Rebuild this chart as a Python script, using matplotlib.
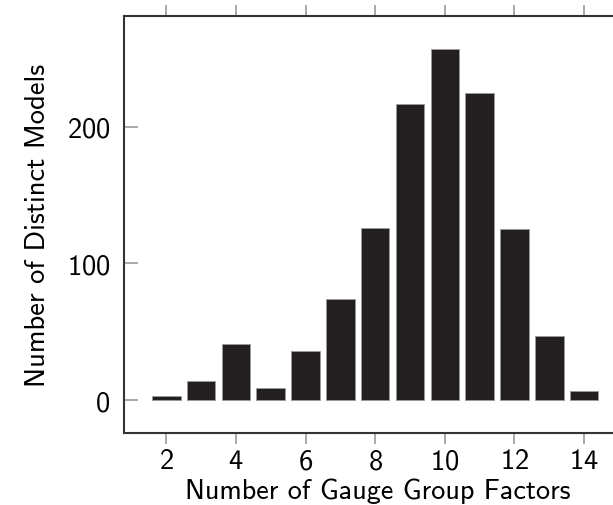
import numpy as np
import matplotlib.pyplot as plt

factors = [2, 3, 4, 5, 6, 7, 8, 9, 10, 11, 12, 13, 14]
models = [3, 14, 41, 9, 36, 74, 126, 217, 257, 225, 125, 47, 7]

plt.rcParams['font.family'] = ['cmss10', 'DejaVu Sans']
plt.rcParams['axes.formatter.use_mathtext'] = True

fig = plt.figure(figsize=(6.13, 5.06), dpi=100)
ax = fig.add_axes([0.2023, 0.1423, 0.7977, 0.8241])

ax.bar(factors, models, width=0.82, color='#231f20', edgecolor='#9a9a9a', linewidth=0.6)

ax.set_xlim(0.785, 14.83)
ax.set_ylim(-24, 281)
ax.set_xticks([2, 4, 6, 8, 10, 12, 14])
ax.set_yticks([0, 100, 200])

for s in ['left', 'bottom', 'top']:
    ax.spines[s].set_color('#333333')
    ax.spines[s].set_linewidth(1.5)
ax.spines['right'].set_visible(False)

ax.tick_params(axis='x', direction='out', length=8, width=1.2, color='#999999',
               labelsize=20.5, pad=3, top=True)
ax.tick_params(axis='y', direction='in', length=10, width=1.2, color='#999999',
               labelsize=20.5, pad=10)

ax.set_xlabel('Number of Gauge Group Factors', fontsize=20.3, labelpad=3)
ax.xaxis.label.set_x(0.518)
ax.set_ylabel('Number of Distinct Models', fontsize=20.5, labelpad=12)

fig.savefig('out.png', dpi=100)
